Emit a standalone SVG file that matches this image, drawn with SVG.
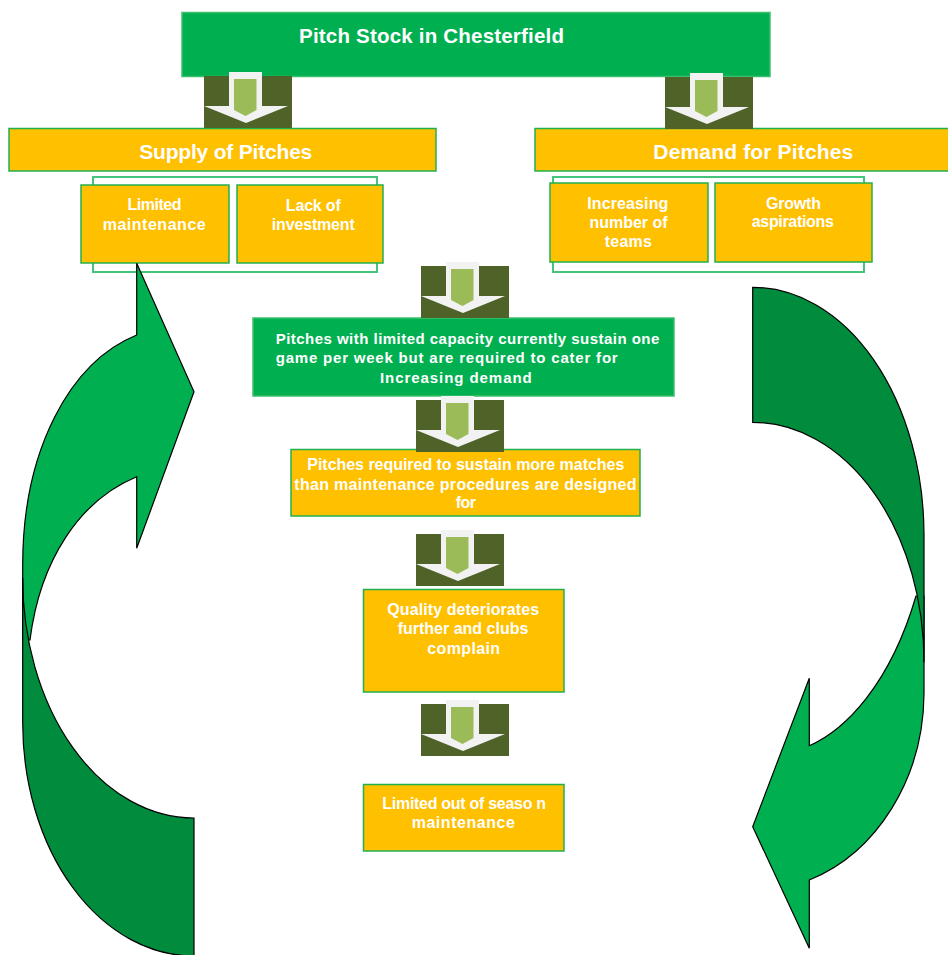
<svg xmlns="http://www.w3.org/2000/svg" width="948" height="955" viewBox="0 0 948 955">
<style>
.t{font-family:"Liberation Sans",Arial,sans-serif;font-weight:bold;fill:#FFFFFF}
.big{font-size:21px}
.mid{font-size:16px}
.sm{font-size:15px}
.gbox{fill:#00B050;stroke:#3CBF6E;stroke-width:1.5}
.ybox{fill:#FFC000;stroke:#22B04E;stroke-width:1.5}
.bracket{fill:#FFFFFF;stroke:#45C47C;stroke-width:2}
.cl{fill:#00B050;stroke:#000;stroke-width:1.2;stroke-linejoin:miter}
.cd{fill:#008C3C;stroke:#000;stroke-width:1.2;stroke-linejoin:miter}
</style>
<defs>
<g id="blockArrow">
<rect x="0" y="0" width="88" height="52" fill="#4F6228"/>
<polygon points="25,-4 58,-4 58,30 84,30 42,47 0,30 25,30" fill="#F2F2F2"/>
<polygon points="30,3 52.5,3 52.5,34 41.5,40 30,34" fill="#9BBB59"/>
</g>
</defs>
<rect width="948" height="955" fill="#FFFFFF"/>

<g id="node-title">
<rect class="gbox" x="182" y="12.5" width="588" height="64"/>
<text class="t" x="431.5" y="42.7" text-anchor="middle" font-size="20.5" textLength="265">Pitch Stock in Chesterfield</text>
</g>

<g id="node-supply">
<rect class="ybox" x="9" y="128.5" width="427" height="42.5"/>
<text class="t big" x="225.8" y="159.3" text-anchor="middle" textLength="173">Supply of Pitches</text>
</g>

<g id="node-demand">
<rect class="ybox" x="535" y="128.5" width="420" height="42.5"/>
<text class="t big" x="753.3" y="159.3" text-anchor="middle" textLength="200">Demand for Pitches</text>
</g>

<g id="node-supply-group">
<rect class="bracket" x="93" y="177" width="284" height="95"/>
</g>
<g id="node-demand-group">
<rect class="bracket" x="553" y="177" width="311" height="95"/>
</g>

<g id="node-limited-maintenance">
<rect class="ybox" x="81" y="185" width="148" height="78"/>
<text class="t mid" x="154.5" y="210" text-anchor="middle" textLength="54">Limited</text>
<text class="t mid" x="154.2" y="230" text-anchor="middle" textLength="103">maintenance</text>
</g>

<g id="node-lack-investment">
<rect class="ybox" x="237" y="185" width="146" height="78"/>
<text class="t mid" x="313.3" y="211" text-anchor="middle" textLength="55">Lack of</text>
<text class="t mid" x="313.3" y="230" text-anchor="middle" textLength="83">investment</text>
</g>

<g id="node-increasing-teams">
<rect class="ybox" x="550" y="183" width="158" height="79"/>
<text class="t mid" x="627.8" y="209.3" text-anchor="middle" textLength="81">Increasing</text>
<text class="t mid" x="628.5" y="228.3" text-anchor="middle" textLength="78">number of</text>
<text class="t mid" x="628.3" y="246.7" text-anchor="middle" textLength="47">teams</text>
</g>

<g id="node-growth">
<rect class="ybox" x="715" y="183" width="157" height="79"/>
<text class="t mid" x="793.5" y="209" text-anchor="middle" textLength="55">Growth</text>
<text class="t mid" x="792.8" y="227.3" text-anchor="middle" textLength="82">aspirations</text>
</g>

<g id="node-limited-capacity">
<rect class="gbox" x="253" y="318" width="421" height="78"/>
<text class="t sm" x="275.7" y="344" textLength="383.6">Pitches with limited capacity currently sustain one</text>
<text class="t sm" x="275.7" y="363.3" textLength="342">game per week but are required to cater for</text>
<text class="t sm" x="380" y="383.3" textLength="151.7">Increasing demand</text>
</g>

<g id="node-more-matches">
<rect class="ybox" x="291" y="449.5" width="349" height="66.5"/>
<text class="t mid" x="307.3" y="470" textLength="317">Pitches required to sustain more matches</text>
<text class="t mid" x="294.3" y="490" textLength="342.3">than maintenance procedures are designed</text>
<text class="t mid" x="465.8" y="508.3" text-anchor="middle" textLength="20.3">for</text>
</g>

<g id="node-quality">
<rect class="ybox" x="363.5" y="589.5" width="200.5" height="102.5"/>
<text class="t mid" x="463.2" y="615" text-anchor="middle" textLength="151.7">Quality deteriorates</text>
<text class="t mid" x="463" y="634.3" text-anchor="middle" textLength="130.7">further and clubs</text>
<text class="t mid" x="463.7" y="654.3" text-anchor="middle" textLength="72.7">complain</text>
</g>

<g id="node-out-of-season">
<rect class="ybox" x="363.5" y="784.5" width="200.5" height="66.5"/>
<text class="t mid" x="464.2" y="809.3" text-anchor="middle" textLength="163.7">Limited out of seaso n</text>
<text class="t mid" x="463.3" y="828.3" text-anchor="middle" textLength="103.3">maintenance</text>
</g>

<g id="connectors">
<use href="#blockArrow" x="204" y="76"/>
<use href="#blockArrow" x="665" y="77"/>
<use href="#blockArrow" x="421" y="266"/>
<use href="#blockArrow" x="416" y="400"/>
<use href="#blockArrow" x="416" y="534"/>
<use href="#blockArrow" x="421" y="704"/>
<g id="curved-left">
<path class="cl" d="M136.7,335 C70,362 22.7,450 22.7,565 L22.7,640 L30,640 C40,560 80,500 136.7,476.7 L136.7,548.3 L194,391.7 L136.7,263.3 Z"/>
<path class="cd" d="M22.7,578 L22.7,723 A171.3,233 0 0 0 194,956 L194,818 A171.3,240 0 0 1 22.7,578 Z"/>
</g>
<g id="curved-right">
<path class="cl" d="M809.3,745.7 C845,730 890,685 916,596 L924,596 L924,693.5 A171.3,199 0 0 1 809.3,880 L809.3,948.3 L752.7,826.7 L809.3,678.3 Z"/>
<path class="cd" d="M752.7,287.3 A171.3,248 0 0 1 924,535 L924,662.3 A171.3,240 0 0 0 752.7,422.3 Z"/>
</g>
</g>
</svg>
